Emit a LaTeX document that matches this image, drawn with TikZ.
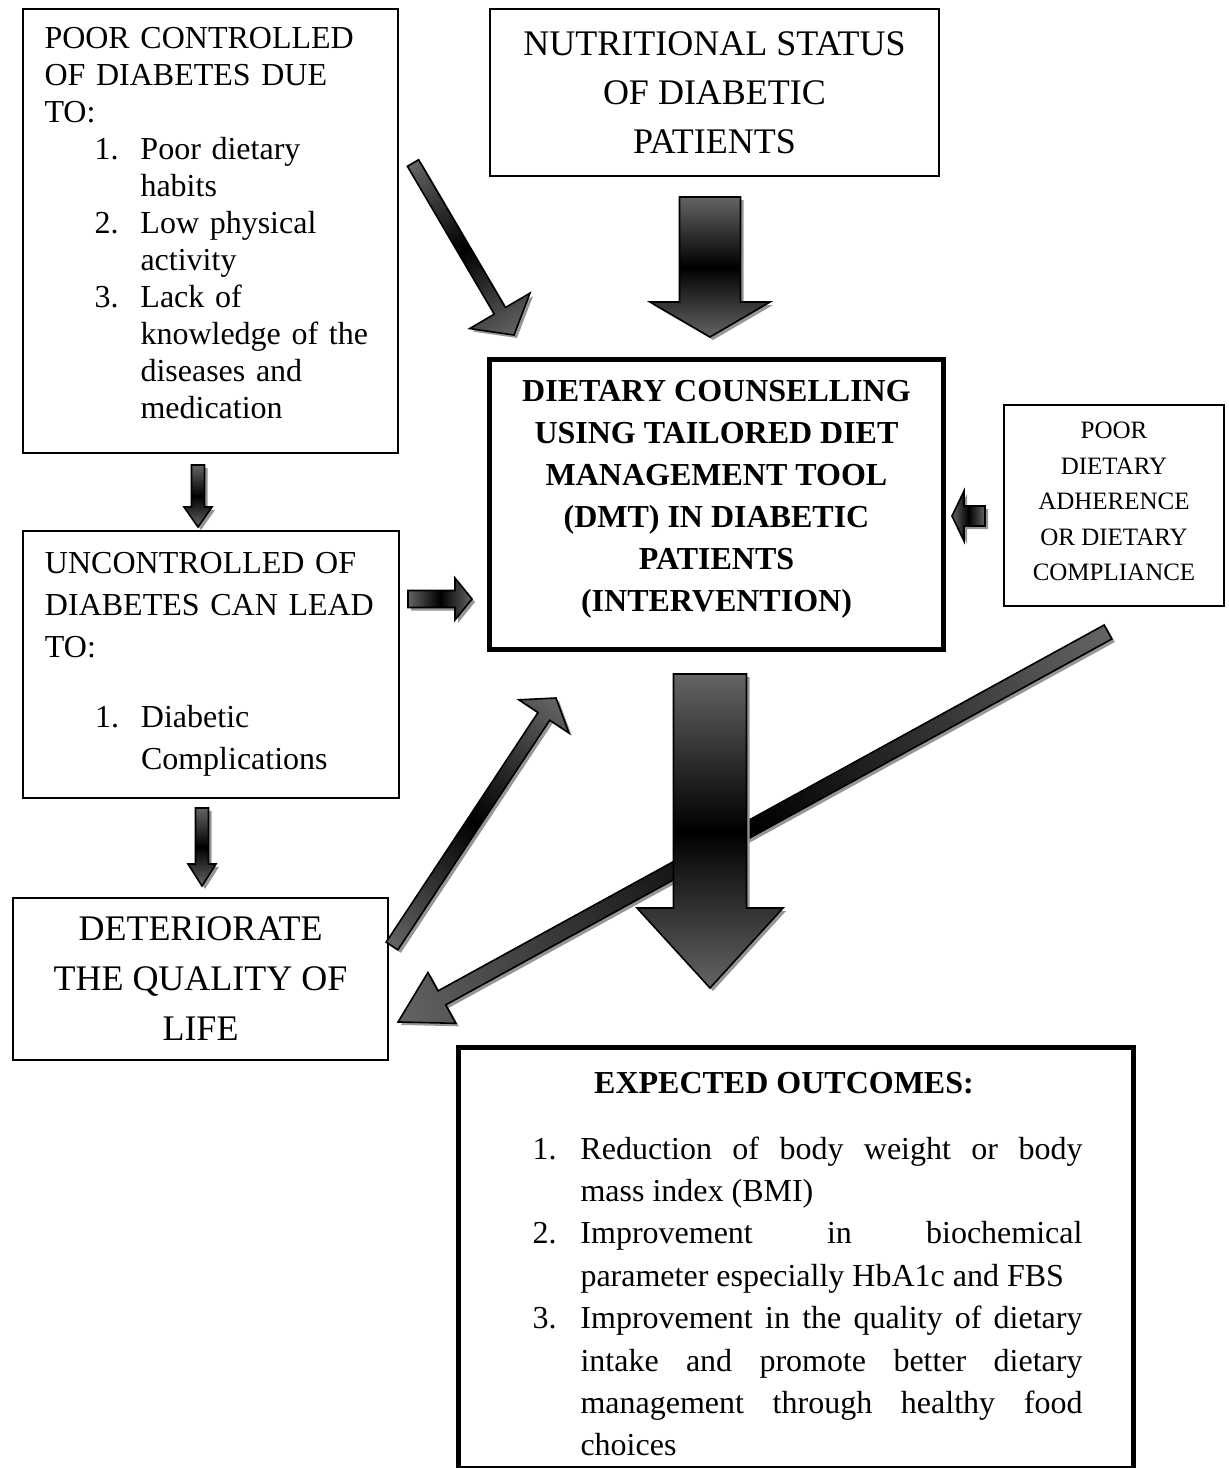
\documentclass[tikz,border=0pt]{standalone}
\usepackage{fontspec}
\setmainfont{Liberation Serif}
\usetikzlibrary{calc}

\definecolor{arrowgray}{RGB}{100,100,100}
\definecolor{shadowgray}{RGB}{150,150,150}

\newcommand{\listnum}[1]{\hspace*{25pt}\makebox[23pt][l]{#1}}
\newcommand{\listcont}{\hspace*{48pt}}

% shaded block arrow: tail, tip, shaft width, head width, head length (px)
\newcommand{\blockarrow}[5]{%
  \path let \p1=(#1), \p2=(#2) in \pgfextra{%
    \pgfmathparse{atan2(\y2-\y1,\x2-\x1)}\xdef\baang{\pgfmathresult}%
    \pgfmathparse{veclen(\x2-\x1,\y2-\y1)}\xdef\balen{\pgfmathresult pt}};
  \fill[shadowgray, transform canvas={shift={($(#1)+(3,3)$)}, rotate=\baang}]
    (0pt,{-#3*0.25pt}) -- ({\balen-#5*0.5pt},{-#3*0.25pt}) -- ({\balen-#5*0.5pt},{-#4*0.25pt})
    -- (\balen,0pt) -- ({\balen-#5*0.5pt},{#4*0.25pt}) -- ({\balen-#5*0.5pt},{#3*0.25pt})
    -- (0pt,{#3*0.25pt}) -- cycle;
  \draw[line width=0.8pt, left color=arrowgray, right color=arrowgray, middle color=black,
    transform canvas={shift={(#1)}, rotate=\baang}]
    (0pt,{-#3*0.25pt}) -- ({\balen-#5*0.5pt},{-#3*0.25pt}) -- ({\balen-#5*0.5pt},{-#4*0.25pt})
    -- (\balen,0pt) -- ({\balen-#5*0.5pt},{#4*0.25pt}) -- ({\balen-#5*0.5pt},{#3*0.25pt})
    -- (0pt,{#3*0.25pt}) -- cycle;
}

\begin{document}
\begin{tikzpicture}[x=0.5pt, y=-0.5pt]
  \tikzstyle{box} = [draw, line width=1pt, anchor=north west, inner sep=0pt, align=center]
  \tikzstyle{thickbox} = [box, line width=2.5pt]
  \tikzstyle{plain} = [font=\fontsize{16}{18.5}\selectfont]
  \tikzstyle{big} = [font=\fontsize{18}{24.5}\selectfont]
  \useasboundingbox (0,0) rectangle (1229,1468);

  % boxes
  \node (poorcontrol) [box, plain, align=left, minimum width=187.5pt, minimum height=222pt,
      text width=166pt, inner xsep=10.5pt] at (22,8) {POOR CONTROLLED\\
      OF DIABETES DUE\\
      TO:\\
      \listnum{1.}Poor dietary\\
      \listcont habits\\
      \listnum{2.}Low physical\\
      \listcont activity\\
      \listnum{3.}Lack of\\
      \listcont knowledge of the\\
      \listcont diseases and\\
      \listcont medication\\[-10.5pt]\mbox{}};
  \node (nutrition) [box, big, minimum width=224.5pt, minimum height=83.5pt] at (489,8)
      {NUTRITIONAL STATUS\\OF DIABETIC\\PATIENTS};
  \node (counselling) [thickbox, font=\fontsize{16}{21}\selectfont\bfseries,
      minimum width=227pt, minimum height=145pt] at (487,357)
      {DIETARY COUNSELLING\\USING TAILORED DIET\\MANAGEMENT TOOL\\(DMT) IN DIABETIC\\PATIENTS\\(INTERVENTION)\\[-12.5pt]\mbox{}};
  \node (adherence) [box, font=\fontsize{12.5}{17.75}\selectfont,
      minimum width=110pt, minimum height=100.5pt] at (1003,404)
      {POOR\\DIETARY\\ADHERENCE\\OR DIETARY\\COMPLIANCE\\[-13.75pt]\mbox{}};
  \node (uncontrolled) [box, font=\fontsize{16}{21}\selectfont, align=left,
      minimum width=188pt, minimum height=133.5pt, text width=166pt, inner xsep=11pt] at (22,530)
      {UNCONTROLLED OF\\DIABETES CAN LEAD\\TO:\\[14pt]
      \listnum{1.}Diabetic\\
      \listcont Complications};
  \node (deteriorate) [box, font=\fontsize{18}{25}\selectfont,
      minimum width=187.5pt, minimum height=81pt] at (12,897)
      {DETERIORATE\\THE QUALITY OF\\LIFE};
  \node (outcomes) [thickbox, font=\fontsize{16}{21.2}\selectfont, align=none,
      text width=337.5pt, minimum height=210.5pt] at (456,1045)
      {\centerline{\rule{0pt}{17pt}\bfseries EXPECTED OUTCOMES:\hspace*{12pt}}\par
      \vspace{11.5pt}
      \leftskip=37pt \rightskip=25.5pt
      \hangindent=24pt \hangafter=1 \noindent\makebox[24pt][l]{1.}Reduction of body weight or body\linebreak
      mass index (BMI)\par
      \hangindent=24pt \hangafter=1 \noindent\makebox[24pt][l]{2.}Improvement in biochemical\linebreak
      parameter especially HbA1c and FBS\par
      \hangindent=24pt \hangafter=1 \noindent\makebox[24pt][l]{3.}Improvement in the quality of dietary\linebreak
      intake and promote better dietary\linebreak
      management through healthy food\linebreak
      choices\par};

  % arrow ends
  \coordinate (pc out) at (413,163);   \coordinate (pc in) at (514,335);
  \coordinate (nu out) at (710,197);   \coordinate (nu in) at (710,337);
  \coordinate (pu out) at (198,465);   \coordinate (pu in) at (198,527);
  \coordinate (ud out) at (202,808);   \coordinate (ud in) at (202,886);
  \coordinate (uc out) at (408,599);   \coordinate (uc in) at (472,599);
  \coordinate (ad out) at (985,516);   \coordinate (ad in) at (952,516);
  \coordinate (dc out) at (392,946);   \coordinate (dc in) at (556,698);
  \coordinate (df out) at (1108,632);  \coordinate (df in) at (398,1022);
  \coordinate (co out) at (710,674);   \coordinate (co in) at (710,988);

  % arrows
  \blockarrow{pc out}{pc in}{13}{70}{28}
  \blockarrow{nu out}{nu in}{61}{120}{35}
  \blockarrow{pu out}{pu in}{13}{28}{20}
  \blockarrow{ud out}{ud in}{13}{28}{22}
  \blockarrow{uc out}{uc in}{17}{42}{17}
  \blockarrow{ad out}{ad in}{20}{50}{12}
  \blockarrow{dc out}{dc in}{14}{60}{22}
  \blockarrow{df out}{df in}{16}{58}{50}
  \blockarrow{co out}{co in}{73}{146}{80}
\end{tikzpicture}
\end{document}
